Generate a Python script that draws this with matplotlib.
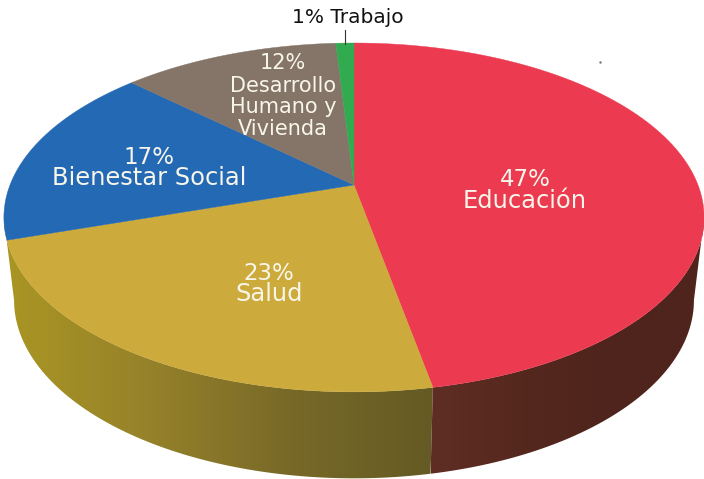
import numpy as np
import matplotlib
matplotlib.use('Agg')
import matplotlib.pyplot as plt
from matplotlib.colors import LinearSegmentedColormap
from matplotlib.patches import Polygon

categories = ['Educación', 'Salud', 'Bienestar Social', 'Desarrollo Humano y Vivienda', 'Trabajo']
shares = [47, 23, 17, 12, 1]
top_colors = ['#ec3a50', '#cdaa3c', '#2369b4', '#847568', '#32aa50']

label_lines = [['47%', 'Educación'], ['23%', 'Salud'], ['17%', 'Bienestar Social'],
               ['12%', 'Desarrollo', 'Humano y', 'Vivienda']]
label_x = [525, 269, 149, 283]
label_y = [[179, 201], [273, 294], [157, 178], [63, 86, 107, 129]]
label_size = [[16.5, 17.4], [16.5, 17.4], [16.5, 17.4], [15, 15, 15, 15]]

# perspective of the disc, in pixels
cx = 354
k = 0.186
top_y0, top_b, top_c = 185, 168.4, 344
bot_y0, bot_b, bot_c = 267, 172, 334


def rim(theta, y0, b, c):
    # theta runs clockwise from the top of the picture
    X, Y = np.sin(theta), np.cos(theta)
    d = 1 + k * Y
    return np.column_stack([cx + c * X / d, y0 - b * Y / d])


def rim_top(theta):
    return rim(theta, top_y0, top_b, top_c)


def rim_bot(theta):
    return rim(theta, bot_y0, bot_b, bot_c)


fig = plt.figure(figsize=(7.04, 4.79), dpi=100)
ax = fig.add_axes([0, 0, 1, 1])

edges = np.radians(np.cumsum([0] + shares) * 3.6)
extreme = np.arccos(-k)

# side walls, shaded left to right
walls = [
    (edges[1], 2 * np.pi - extreme, ['#aa9623', '#96822a', '#786928', '#645a23']),
    (extreme, edges[1], ['#5f2d23', '#55281e', '#4e241c', '#4e241c']),
]
for start, stop, stops in walls:
    t = np.linspace(start, stop, 200)
    outline = np.vstack([rim_top(t), rim_bot(t[::-1])])
    patch = Polygon(outline, closed=True, facecolor='none', edgecolor='none')
    ax.add_patch(patch)
    cmap = LinearSegmentedColormap.from_list('wall', stops)
    grad = np.linspace(0, 1, 256).reshape(1, -1)
    x0, x1 = outline[:, 0].min(), outline[:, 0].max()
    # the red wall starts at the front and darkens towards the right edge
    im = ax.imshow(grad, cmap=cmap, extent=[x0, x1, 479, 0], aspect='auto', zorder=1)
    im.set_clip_path(patch)

# top of the pie
for i in range(len(shares)):
    t = np.linspace(edges[i], edges[i + 1], 120)
    pts = np.vstack([[cx, top_y0], rim_top(t)])
    ax.add_patch(Polygon(pts, closed=True, facecolor=top_colors[i], edgecolor=top_colors[i],
                         linewidth=0.3, zorder=2))

for lines, x, ys, sizes in zip(label_lines, label_x, label_y, label_size):
    for line, y, size in zip(lines, ys, sizes):
        ax.text(x, y, line, color='#f8f6ea', fontsize=size, ha='center', va='center',
                fontfamily='DejaVu Sans', zorder=3)

ax.text(348, 17, '1% Trabajo', color='#111111', fontsize=14.5, ha='center', va='center',
        fontfamily='DejaVu Sans', zorder=3)
ax.plot([345, 345], [30, 44], color='#333333', linewidth=0.8, zorder=3)
ax.plot([600], [62], marker='.', markersize=1.5, color='#777777', zorder=3)

ax.set_xlim(0, 704)
ax.set_ylim(479, 0)
ax.axis('off')
fig.savefig('out.png', dpi=100)
